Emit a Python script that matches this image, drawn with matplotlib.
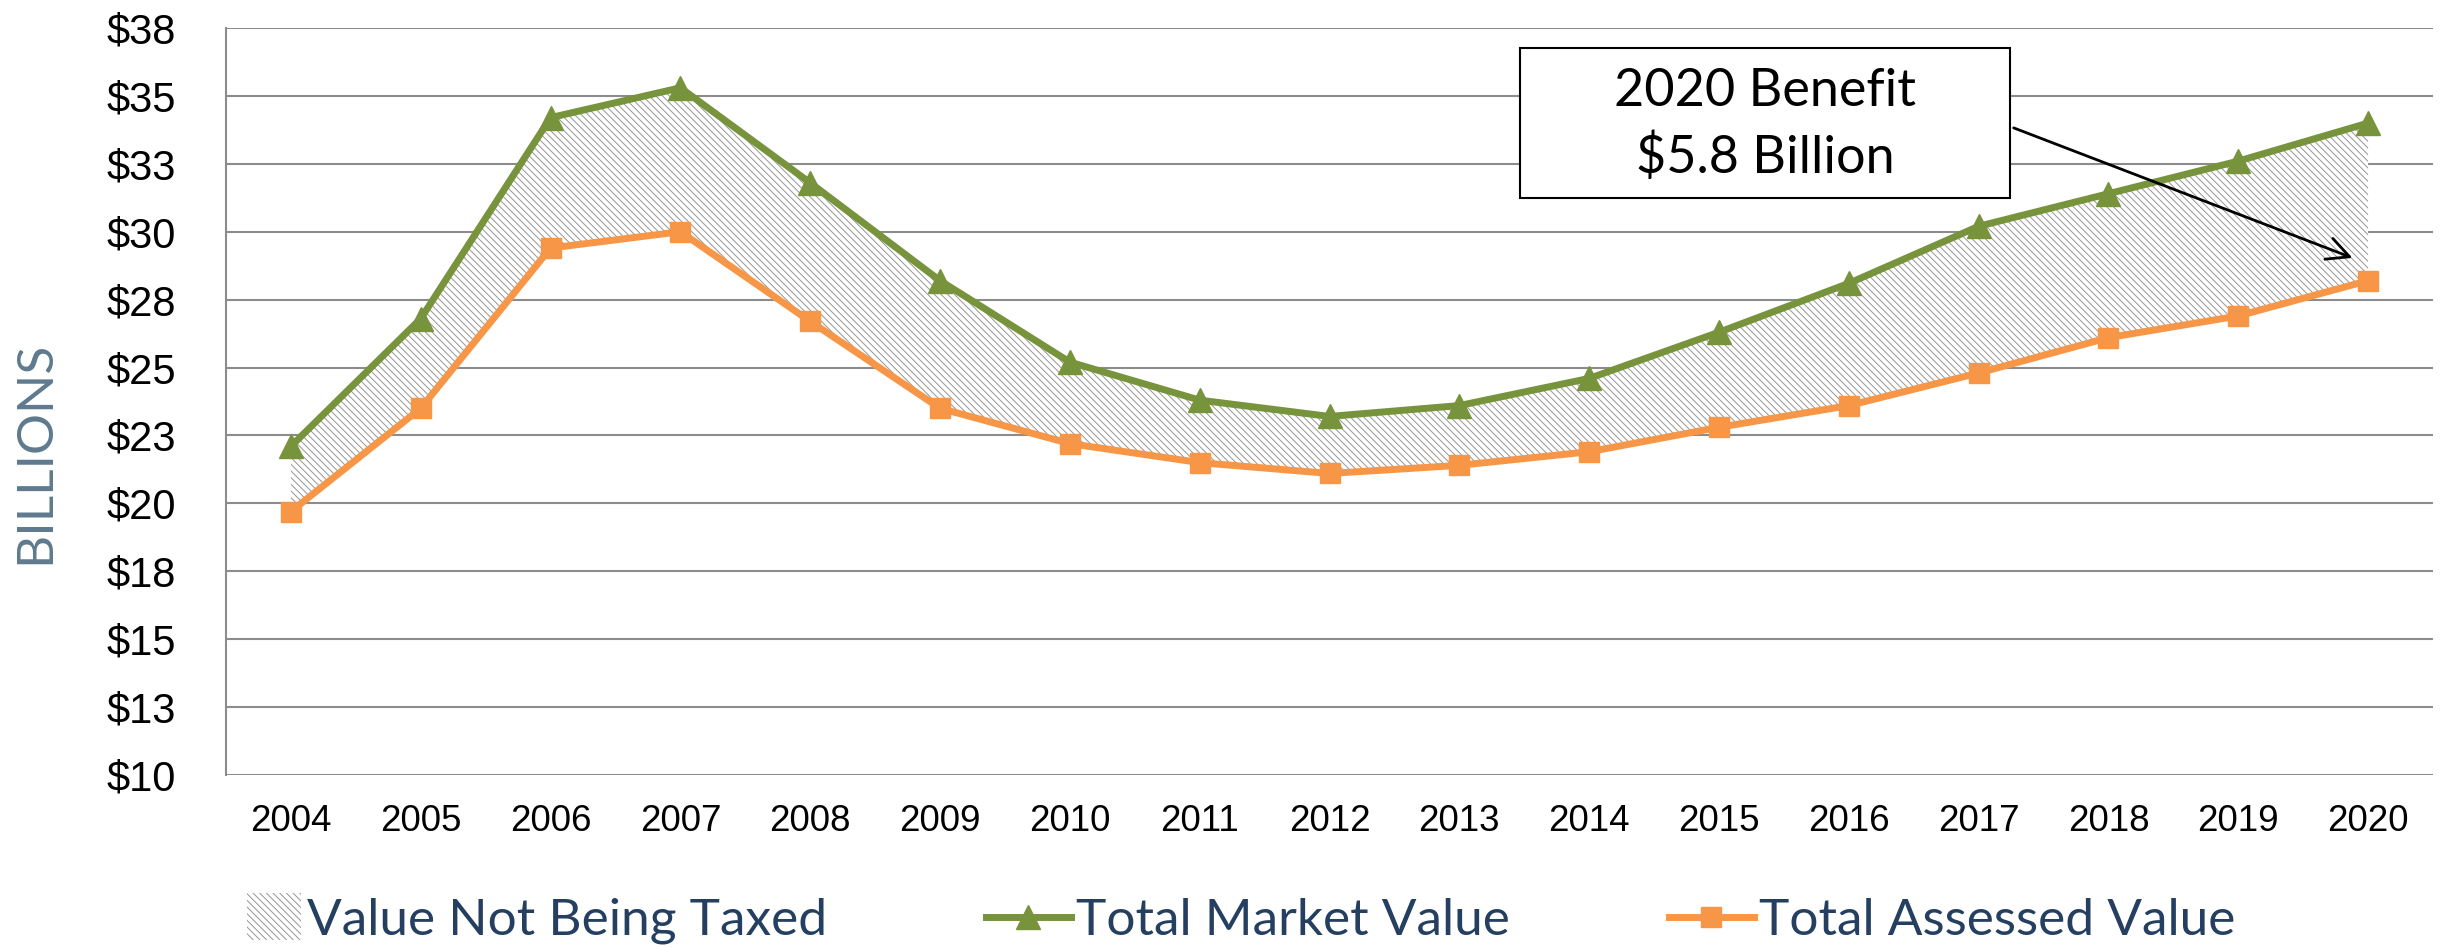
import matplotlib
matplotlib.use('Agg')
import matplotlib.pyplot as plt
from matplotlib.patches import Patch, Rectangle
from matplotlib.lines import Line2D
from matplotlib.legend_handler import HandlerPatch

years = ['2004', '2005', '2006', '2007', '2008', '2009', '2010', '2011', '2012',
         '2013', '2014', '2015', '2016', '2017', '2018', '2019', '2020']
market = [22.1, 26.8, 34.2, 35.3, 31.8, 28.2, 25.2, 23.8, 23.2,
          23.6, 24.6, 26.3, 28.1, 30.2, 31.4, 32.6, 34.0]
assessed = [19.7, 23.5, 29.4, 30.0, 26.7, 23.5, 22.2, 21.5, 21.1,
            21.4, 21.9, 22.8, 23.6, 24.8, 26.1, 26.9, 28.2]
yticks = [10, 12.5, 15, 17.5, 20, 22.5, 25, 27.5, 30, 32.5, 35, 37.5]
ytick_labels = ['$10', '$13', '$15', '$18', '$20', '$23', '$25', '$28', '$30', '$33', '$35', '$38']

green = '#77933C'
orange = '#F79646'
grid_c = '#8C8C8C'
navy = '#243F60'
hatch_c = '#959595'

plt.rcParams['hatch.color'] = hatch_c
plt.rcParams['hatch.linewidth'] = 0.7

fig = plt.figure(figsize=(24.4, 9.47), dpi=100)
ax = fig.add_axes([226/2440, 1-775/947, (2433-226)/2440, (775-28)/947])

x = list(range(len(years)))
ax.fill_between(x, assessed, market, facecolor='white', edgecolor=hatch_c,
                hatch='\\\\\\\\\\', linewidth=0, zorder=2)
ax.plot(x, market, color=green, lw=5, marker='^', ms=17, zorder=4)
ax.plot(x, assessed, color=orange, lw=5, marker='s', ms=14, zorder=3)

ax.set_xlim(-0.5, len(years) - 0.5)
ax.set_ylim(10, 37.5)
ax.set_yticks(yticks)
ax.set_yticklabels(ytick_labels, fontsize=30, family=['Liberation Sans', 'DejaVu Sans'])
ax.set_xticks(x)
ax.set_xticklabels(years, fontsize=26.5, family=['Liberation Sans', 'DejaVu Sans'])
ax.tick_params(axis='y', length=0, pad=36)
ax.tick_params(axis='x', length=0, pad=21)
ax.grid(axis='y', color=grid_c, lw=1.5, zorder=1)
ax.set_axisbelow(True)
for s in ['top', 'right', 'bottom']:
    ax.spines[s].set_visible(False)
ax.spines['left'].set_color(grid_c)
ax.spines['left'].set_linewidth(1.5)

fig.text(35/2440, 1-452/947, 'BILLIONS', rotation=90, ha='center', va='center',
         fontsize=37, color='#5F7A8E', family='Lato')

# callout box
fig.patches.append(Rectangle((1520/2440, 1-198/947), 490/2440, 150/947,
                             transform=fig.transFigure, fc='white', ec='black', lw=1.5, zorder=5))
fig.text(1765/2440, 1-92/947, '2020 Benefit', ha='center', va='center', fontsize=37.5, family='Lato', zorder=6)
fig.text(1765/2440, 1-157/947, '$5.8 Billion', ha='center', va='center', fontsize=37.5, family='Lato', zorder=6)
ax.annotate('', xy=(15.9, 29.0), xytext=(13.25, 33.86),
            arrowprops=dict(arrowstyle='->', lw=2, color='black', mutation_scale=40), zorder=6)


def narrow_patch(legend, orig_handle, xdescent, ydescent, width, height, fontsize):
    return Rectangle((-xdescent + width * 0.36, -ydescent - height * 0.15), width * 0.64, height * 1.3)


handles = [Patch(facecolor='white', edgecolor=hatch_c, hatch='\\\\\\\\\\', linewidth=0),
           Line2D([], [], color=green, lw=5, marker='^', ms=17),
           Line2D([], [], color=orange, lw=5, marker='s', ms=14)]
labels = ['Value Not Being Taxed', 'Total Market Value', 'Total Assessed Value']
leg = fig.legend(handles, labels, loc='center', bbox_to_anchor=(1226/2440, 1-921/947), ncol=3,
                 frameon=False, handlelength=1.65, handletextpad=0.1, columnspacing=3.1,
                 prop={'family': 'Lato', 'size': 37},
                 handler_map={Patch: HandlerPatch(patch_func=narrow_patch)})
for t in leg.get_texts():
    t.set_color(navy)

fig.savefig('out.png', dpi=100)
